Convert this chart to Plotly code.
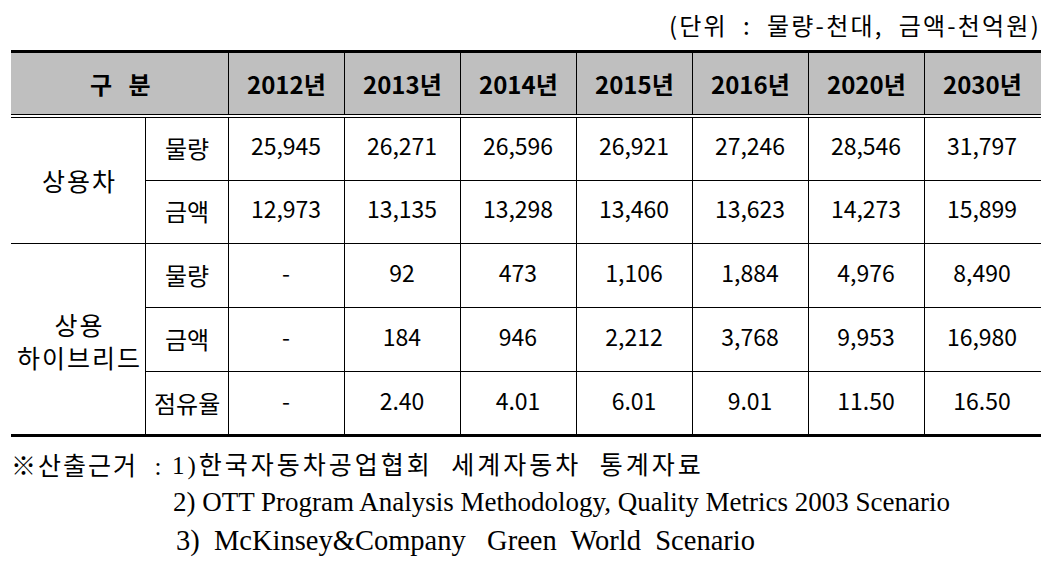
import plotly.graph_objects as go

# ---- data ----
years = ['2012년', '2013년', '2014년', '2015년', '2016년', '2020년', '2030년']
groups = ['상용차', '상용<br>하이브리드']
items_comm = ['물량', '금액']
items_hyb = ['물량', '금액', '점유율']

comm_qty = [25945, 26271, 26596, 26921, 27246, 28546, 31797]
comm_amt = [12973, 13135, 13298, 13460, 13623, 14273, 15899]
hyb_qty = [None, 92, 473, 1106, 1884, 4976, 8490]
hyb_amt = [None, 184, 946, 2212, 3768, 9953, 16980]
hyb_share = [None, 2.40, 4.01, 6.01, 9.01, 11.50, 16.50]

unit_note = '(단위&nbsp; :&nbsp; 물량-천대,&nbsp; 금액-천억원)'
src_head = '※산출근거&nbsp; :'
sources = ['1)한국자동차공업협회&nbsp; 세계자동차&nbsp; 통계자료',
           '2) OTT Program Analysis Methodology, Quality Metrics 2003 Scenario',
           '3)&nbsp; McKinsey&amp;Company&nbsp;&nbsp; Green&nbsp; World&nbsp; Scenario']


def fmt(v, dec=False):
    if v is None:
        return '-'
    return f'{v:.2f}' if dec else f'{v:,}'


def spaced(t, px):
    return f'<span style="letter-spacing:{px}px">{t}</span>'


rows = [[fmt(v) for v in comm_qty],
        [fmt(v) for v in comm_amt],
        [fmt(v) for v in hyb_qty],
        [fmt(v) for v in hyb_amt],
        [fmt(v, True) for v in hyb_share]]
row_items = items_comm + items_hyb

# ---- geometry (screen pixels; page body has an 8px margin) ----
W, H, OFF = 1062, 568, 8
xe = [11, 145, 228, 344, 460, 576, 692, 808, 924, 1040]
hy0, hy1 = 51.5, 114
ye = [117, 180, 243, 307, 371, 435]
ycen = [(ye[i] + ye[i + 1]) / 2 + 1 for i in range(5)]
xcen = [(xe[i] + xe[i + 1]) / 2 for i in range(len(xe) - 1)]

SANS = 'Noto Sans CJK KR'
SERIF = 'Liberation Serif, Noto Sans CJK KR'

fig = go.Figure()

# cell values
xs, ys, ts = [], [], []
for r, vals in enumerate(rows):
    for c, t in enumerate(vals):
        xs.append(xcen[c + 2])
        ys.append(ycen[r])
        ts.append(t)
fig.add_trace(go.Scatter(x=xs, y=ys, text=ts, mode='text', hoverinfo='skip',
                         textfont=dict(family=SANS, size=23, color='black')))

shapes = []
line = lambda x0, y0, x1, y1, w=1: shapes.append(dict(
    type='line', x0=x0, y0=y0, x1=x1, y1=y1, xref='x', yref='y',
    line=dict(color='black', width=w)))

# header background
shapes.append(dict(type='rect', x0=xe[0], x1=xe[-1] + 1, y0=hy0, y1=hy1, xref='x', yref='y',
                   fillcolor='#bfbfbf', line=dict(width=0), layer='below'))
line(xe[0], hy0, xe[-1] + 1, hy0, 3)
line(xe[0], 114.5, xe[-1] + 1, 114.5, 1)
line(xe[0], 117.5, xe[-1] + 1, 117.5, 1)
line(xe[0], 435.5, xe[-1] + 1, 435.5, 3)
# header verticals
for x in xe[2:-1]:
    line(x + 0.5, hy0, x + 0.5, 114.5)
# body verticals
for x in xe[1:-1]:
    line(x + 0.5, 117.5, x + 0.5, 435)
# body horizontals
line(xe[1], ye[1] + 0.5, xe[-1] + 1, ye[1] + 0.5)
line(xe[0], ye[2] + 0.5, xe[-1] + 1, ye[2] + 0.5)
line(xe[1], ye[3] + 0.5, xe[-1] + 1, ye[3] + 0.5)
line(xe[1], ye[4] + 0.5, xe[-1] + 1, ye[4] + 0.5)

ann = []
hcen = (hy0 + hy1) / 2 + 1
ann.append(dict(x=(xe[0] + xe[2]) / 2 + 1, y=hcen, text='<b>구&nbsp;&nbsp; 분</b>', showarrow=False,
                font=dict(family=SANS, size=24, color='black')))
for i, yr in enumerate(years):
    ann.append(dict(x=xcen[i + 2], y=hcen, text=f'<b>{yr}</b>', showarrow=False,
                    font=dict(family=SANS, size=24, color='black')))
ann.append(dict(x=xcen[0] + 1, y=ye[1], text=spaced(groups[0], 2), showarrow=False,
                font=dict(family=SANS, size=25, color='black')))
ann.append(dict(x=xcen[0] + 1, y=ycen[3], text=spaced(groups[1], 2), showarrow=False,
                font=dict(family=SANS, size=25, color='black')))
for r, it in enumerate(row_items):
    ann.append(dict(x=xcen[1], y=ycen[r] - 2, text=it, showarrow=False,
                    font=dict(family=SANS, size=24, color='black')))

ann.append(dict(x=1043, y=24, text=spaced(unit_note, 2.2), showarrow=False, xanchor='right',
                font=dict(family=SANS, size=24, color='black')))
ann.append(dict(x=9, y=466, text=spaced(src_head, 2), showarrow=False, xanchor='left',
                font=dict(family=SERIF, size=25, color='black')))
src_x = [170, 171, 174]
src_y = [466, 502, 541]
src_size = [25, 27, 28.5]
src_ls = [3, 0, 0]
for i, s in enumerate(sources):
    txt = spaced(s, src_ls[i]) if src_ls[i] else s
    ann.append(dict(x=src_x[i], y=src_y[i], text=txt, showarrow=False, xanchor='left',
                    font=dict(family=SERIF, size=src_size[i], color='black')))

fig.update_layout(
    width=W - 2 * OFF, height=H - 2 * OFF, margin=dict(l=0, r=0, t=0, b=0),
    paper_bgcolor='white', plot_bgcolor='white', showlegend=False,
    shapes=shapes, annotations=ann,
    xaxis=dict(range=[OFF, W - OFF], visible=False, fixedrange=True),
    yaxis=dict(range=[H - OFF, OFF], visible=False, fixedrange=True),
)

fig.write_html('out.html')
